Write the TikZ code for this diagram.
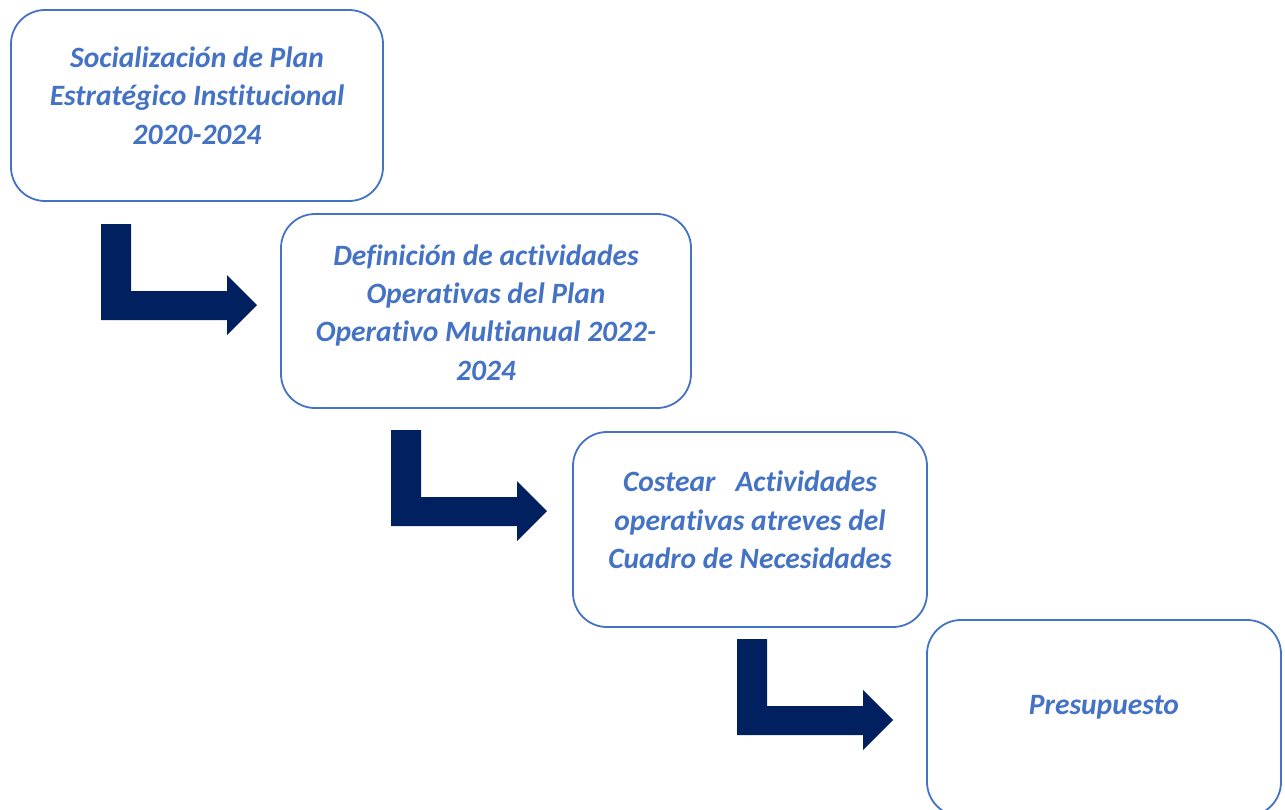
\documentclass[tikz,border=0pt]{standalone}
\usepackage{fontspec}
\setmainfont[Ligatures={NoCommon}]{Carlito}
\definecolor{boxblue}{HTML}{4472C4}
\definecolor{navy}{HTML}{002060}
\tikzset{
  stagebox/.style={draw=boxblue, line width=1.8pt, rounded corners=34pt, fill=white, inner sep=0pt},
  stagetext/.style={text=boxblue, font=\fontsize{29.5}{38.3}\selectfont\bfseries\itshape, align=center, inner sep=0pt},
  bentarrow/.pic={\fill[navy] (0,0) -- (0,96) -- (126,96) -- (126,111) -- (156,81) -- (126,51) -- (126,67) -- (30,67) -- (30,0) -- cycle;}
}
\begin{document}
\begin{tikzpicture}[x=1pt,y=-1pt]
\useasboundingbox (0,0) rectangle (1285,809);
\fill[white] (0,0) rectangle (1285,809);
% boxes
\node[stagebox, minimum width=372pt, minimum height=191pt] (b1) at (197,105.5) {};
\node[stagebox, minimum width=410pt, minimum height=194pt] (b2) at (486,311) {};
\node[stagebox, minimum width=354pt, minimum height=195pt] (b3) at (750,529.5) {};
\node[stagebox, minimum width=354pt, minimum height=196pt] (b4) at (1104,718) {};
% texts
\node[stagetext] (t1) at (197,95.5) {Socialización de Plan\\Estratégico Institucional\\2020-2024};
\node[stagetext] (t2) at (486,312.5) {Definición de actividades\\Operativas del Plan\\Operativo Multianual 2022-\\2024};
\node[stagetext] (t3) at (750,520) {Costear\ \ \ Actividades\\operativas atreves del\\Cuadro de Necesidades};
\node[stagetext] (t4) at (1104,707.5) {Presupuesto};
% bent arrows
\coordinate (a1) at (101,224);
\coordinate (a2) at (391,430);
\coordinate (a3) at (737,639);
\pic at (a1) {bentarrow};
\pic at (a2) {bentarrow};
\pic at (a3) {bentarrow};
\end{tikzpicture}
\end{document}
